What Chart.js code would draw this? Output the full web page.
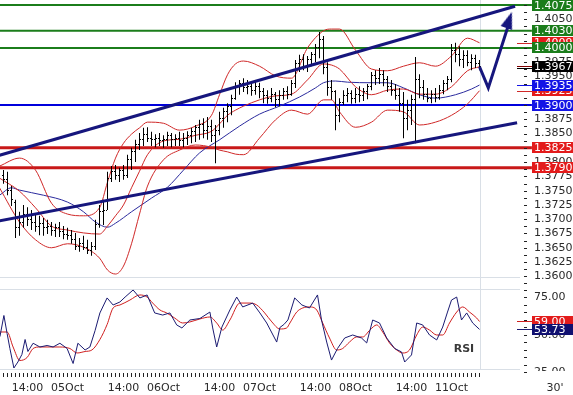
<!DOCTYPE html>
<html>
<head>
<meta charset="utf-8">
<title>30' chart</title>
<script src="https://cdn.jsdelivr.net/npm/chart.js@4.4.1/dist/chart.umd.min.js"></script>
<style>
html,body{margin:0;padding:0;background:#fff;overflow:hidden;}
#c{display:block;}
</style>
</head>
<body>
<canvas id="c" width="573" height="395"></canvas>
<script>
// ================= DATA =================
// time axis: hours counted from 05Oct 00:00 (weekend removed, 11Oct 00:00 = 96)
const firstBarHour = -16;   // one OHLC bar per hour

const barHigh = [
 1.3786,1.3783,1.3758,1.3734,1.3713,1.3725,1.3721,1.3716,1.3711,1.3706,
 1.3702,1.3699,1.3695,1.3692,1.3695,1.3688,1.3685,1.3681,1.3676,1.3667,
 1.3671,1.3664,1.3660,1.3699,1.3725,1.3734,1.3783,1.3793,1.3795,1.3790,
 1.3795,1.3813,1.3825,1.3839,1.3851,1.3860,1.3861,1.3853,1.3849,1.3851,
 1.3847,1.3853,1.3851,1.3849,1.3853,1.3851,1.3854,1.3860,1.3865,1.3874,
 1.3877,1.3879,1.3874,1.3865,1.3888,1.3895,1.3903,1.3918,1.3940,1.3944,
 1.3947,1.3944,1.3940,1.3944,1.3939,1.3930,1.3926,1.3930,1.3923,1.3926,
 1.3930,1.3933,1.3944,1.3979,1.3988,1.3989,1.3986,1.3993,1.4007,1.4028,
 1.4021,1.3975,1.3944,1.3926,1.3912,1.3926,1.3930,1.3926,1.3930,1.3933,
 1.3930,1.3937,1.3958,1.3961,1.3965,1.3961,1.3951,1.3944,1.3937,1.3930,
 1.3923,1.3909,1.3918,1.3984,1.3954,1.3944,1.3930,1.3926,1.3930,1.3935,
 1.3944,1.3951,1.4007,1.4009,1.4003,1.3996,1.3996,1.3989,1.3988,1.3979];
const barLow = [
 1.3762,1.3742,1.3723,1.3667,1.3671,1.3685,1.3688,1.3681,1.3678,1.3672,
 1.3671,1.3674,1.3671,1.3669,1.3669,1.3665,1.3664,1.3657,1.3646,1.3643,
 1.3646,1.3639,1.3636,1.3646,1.3685,1.3690,1.3716,1.3765,1.3769,1.3765,
 1.3769,1.3772,1.3786,1.3800,1.3821,1.3828,1.3835,1.3828,1.3826,1.3828,
 1.3825,1.3828,1.3826,1.3828,1.3828,1.3826,1.3830,1.3833,1.3835,1.3839,
 1.3842,1.3839,1.3835,1.3798,1.3847,1.3860,1.3870,1.3882,1.3909,1.3918,
 1.3923,1.3919,1.3916,1.3918,1.3912,1.3903,1.3902,1.3905,1.3896,1.3898,
 1.3909,1.3910,1.3916,1.3930,1.3958,1.3961,1.3958,1.3968,1.3975,1.3982,
 1.3954,1.3916,1.3909,1.3856,1.3870,1.3900,1.3905,1.3902,1.3903,1.3905,
 1.3907,1.3910,1.3926,1.3935,1.3937,1.3933,1.3923,1.3916,1.3909,1.3888,
 1.3842,1.3856,1.3865,1.3833,1.3912,1.3909,1.3905,1.3903,1.3905,1.3909,
 1.3919,1.3926,1.3940,1.3975,1.3968,1.3965,1.3968,1.3961,1.3965,1.3961];
const barOpen = [
 1.3776,1.3769,1.3751,1.3730,1.3685,1.3695,1.3709,1.3699,1.3695,1.3688,
 1.3692,1.3685,1.3688,1.3681,1.3685,1.3678,1.3674,1.3671,1.3664,1.3653,
 1.3657,1.3650,1.3646,1.3653,1.3690,1.3713,1.3716,1.3772,1.3783,1.3776,
 1.3786,1.3777,1.3804,1.3818,1.3830,1.3839,1.3849,1.3842,1.3839,1.3842,
 1.3837,1.3840,1.3846,1.3839,1.3842,1.3837,1.3842,1.3846,1.3853,1.3860,
 1.3865,1.3856,1.3863,1.3847,1.3856,1.3877,1.3888,1.3898,1.3912,1.3933,
 1.3937,1.3930,1.3933,1.3926,1.3932,1.3923,1.3916,1.3912,1.3918,1.3909,
 1.3916,1.3923,1.3919,1.3937,1.3972,1.3979,1.3968,1.3979,1.3988,1.4000,
 1.4014,1.3965,1.3930,1.3923,1.3882,1.3905,1.3916,1.3921,1.3912,1.3919,
 1.3916,1.3923,1.3933,1.3951,1.3947,1.3954,1.3944,1.3933,1.3926,1.3916,
 1.3902,1.3877,1.3891,1.3909,1.3944,1.3930,1.3918,1.3912,1.3919,1.3914,
 1.3926,1.3937,1.3944,1.3996,1.3988,1.3979,1.3986,1.3975,1.3982,1.3972];
const barClose = [
 1.3769,1.3751,1.3734,1.3685,1.3695,1.3709,1.3699,1.3695,1.3688,1.3692,
 1.3685,1.3688,1.3681,1.3685,1.3678,1.3674,1.3671,1.3664,1.3653,1.3657,
 1.3650,1.3646,1.3653,1.3690,1.3713,1.3716,1.3772,1.3783,1.3776,1.3786,
 1.3777,1.3804,1.3818,1.3830,1.3839,1.3849,1.3842,1.3839,1.3842,1.3837,
 1.3840,1.3846,1.3839,1.3842,1.3837,1.3842,1.3846,1.3853,1.3860,1.3865,
 1.3856,1.3863,1.3847,1.3856,1.3877,1.3888,1.3898,1.3912,1.3933,1.3937,
 1.3930,1.3933,1.3926,1.3932,1.3923,1.3916,1.3912,1.3918,1.3909,1.3916,
 1.3923,1.3919,1.3937,1.3972,1.3979,1.3968,1.3979,1.3988,1.4000,1.4014,
 1.3965,1.3930,1.3923,1.3882,1.3905,1.3916,1.3921,1.3912,1.3919,1.3916,
 1.3923,1.3933,1.3951,1.3947,1.3954,1.3944,1.3933,1.3926,1.3916,1.3902,
 1.3877,1.3891,1.3909,1.3944,1.3930,1.3918,1.3912,1.3919,1.3914,1.3926,
 1.3937,1.3944,1.3996,1.3988,1.3979,1.3986,1.3975,1.3982,1.3972,1.3967];

// Bollinger bands
const bandHours = [-17,-12,-8,-4,0,4,8,10,12,14,16,18,20,24,28,32,36,38,40,42,44,48,52,56,60,64,66,68,72,76,80,84,88,92,96,100,103];
const bbUpper  = [1.3793,1.3807,1.3786,1.3728,1.3709,1.3706,1.3720,1.3765,1.3807,1.3833,1.3849,1.3860,1.3870,1.3868,1.3856,1.3863,1.3882,1.3918,1.3953,1.3972,1.3977,1.3968,1.3951,1.3947,1.4000,1.4030,1.4033,1.4033,1.3996,1.3963,1.3960,1.3968,1.3974,1.3968,1.3986,1.4017,1.4009];
const bbMiddle = [1.3772,1.3749,1.3720,1.3688,1.3681,1.3676,1.3674,1.3688,1.3706,1.3725,1.3755,1.3784,1.3813,1.3837,1.3840,1.3847,1.3854,1.3867,1.3882,1.3891,1.3898,1.3909,1.3916,1.3919,1.3944,1.3972,1.3970,1.3963,1.3932,1.3918,1.3926,1.3928,1.3919,1.3919,1.3932,1.3960,1.3967];
const bbLower  = [1.3755,1.3695,1.3664,1.3650,1.3657,1.3651,1.3632,1.3611,1.3604,1.3618,1.3657,1.3709,1.3758,1.3804,1.3821,1.3830,1.3826,1.3821,1.3818,1.3814,1.3813,1.3842,1.3874,1.3891,1.3884,1.3909,1.3909,1.3888,1.3861,1.3870,1.3891,1.3888,1.3865,1.3870,1.3882,1.3902,1.3925];

// moving average (blue)
const maHours  = [-17,-14,-12,-6,0,4,7,10,12,16,21,25,29,33,38,43,48,53,58,62,64,67,70,76,80,84,88,92,97,101,103];
const maValues = [1.3742,1.3755,1.3751,1.3742,1.3730,1.3713,1.3695,1.3686,1.3693,1.3713,1.3737,1.3756,1.3786,1.3816,1.3839,1.3863,1.3884,1.3898,1.3914,1.3930,1.3939,1.3942,1.3940,1.3939,1.3939,1.3930,1.3918,1.3912,1.3918,1.3928,1.3935];

// RSI and its signal
const rsiHours = [-16.9,-15.9,-15.1,-14.4,-13.4,-12.4,-11.4,-10.6,-9.9,-8.6,-6.9,-5.1,-3.6,-1.9,-0.1,1.4,2.6,4.4,5.6,6.9,8.1,9.9,11.4,13.1,14.4,16.4,18.1,19.9,21.8,23.8,25.6,27.3,28.6,30.6,33.1,35.6,36.3,37.3,38.6,40.6,42.3,43.8,46.3,48.1,49.8,52.3,53.1,54.1,55.1,56.8,58.6,60.5,62.5,63.5,64.8,66.0,67.5,69.3,71.3,73.5,74.8,76.3,78.0,79.8,81.8,83.5,84.3,86.0,87.3,88.8,90.5,92.3,93.8,95.0,96.0,97.3,98.5,99.8,101.3,103.0];
const rsiValues = [48.9,63,51,41,28,32,37,47,39,44.5,42,43,42,44.5,41,31,44.5,40,42,53,64.7,74.7,70,72,75.3,80,74.7,76.7,64.7,63.3,64.7,56.7,54.7,60,61,65.3,54.7,42,55.3,66.7,75.3,68.7,71.3,64.7,58,45.3,55,57,60,74.7,70,68,76.7,60,45.3,33.3,41,48,50,48,44.7,60,58,48,41,38.7,32,36.7,58,56.7,50,46.7,55.3,65.3,73.3,75.3,60,64.7,58,53.73];
const rsiSignalHours = [-16.9,-15.1,-13.6,-11.9,-10.1,-8.6,-6.9,-4.4,-1.9,0.6,2.4,4.4,6.1,8.1,9.9,11.4,13.1,15.6,18.1,19.9,21.3,23.1,24.8,26.8,28.8,30.6,33.1,35.6,37.3,38.8,40.6,43.1,45.6,47.3,49.3,51.1,53.1,54.8,55.6,57.3,58.8,60.5,62.3,63.8,65.5,67.3,68.8,70.5,72.3,73.8,75.6,77.3,78.8,80.5,82.3,83.8,85.5,87.3,88.8,90.5,92.3,93.8,95.5,97.3,98.8,100.5,102.3,103.0];
const rsiSignalValues = [52,52,42,33,35,41,42,42,42,41,38,39,40,47,57,68,70,73.3,76.7,75.3,71.3,66.7,64.7,61.3,58,58.7,60.7,62,58,53.3,60,71.3,71.3,70,64.7,58.7,54,54.7,58,65.3,68,68.7,66.7,58,48,40,41,45.3,48.7,48.7,53.3,56.7,52,44.7,40,38,40,50,55.3,53.3,50,50,58,65.3,68.7,65.3,61.3,59];

// horizontal levels
const resistanceLevels = [1.4075, 1.4030, 1.4000];
const pivotLevels = [1.3900];
const supportLevels = [1.3825, 1.3790];

// trend channel (two end points each)
const channelUpperHours = [-17, 111.9];
const channelUpperPrices = [1.3812, 1.4073];
const channelLowerHours = [-17, 112.4];
const channelLowerPrices = [1.3697, 1.3869];

// projection arrow
const arrowHours = [103, 105.2, 110.1];
const arrowPrices = [1.3967, 1.3930, 1.4037];
const arrowHeadHours = [110.4];
const arrowHeadPrices = [1.4049];

// tick labels
const timeTickHours = [-10, 0, 14, 24, 38, 48, 62, 72, 86, 96];
const timeTickLabels = ['14:00','05Oct','14:00','06Oct','14:00','07Oct','14:00','08Oct','14:00','11Oct'];
const priceTickLabels = ['1.3600','1.3625','1.3650','1.3675','1.3700','1.3725','1.3750','1.3775','1.3800','1.3825','1.3850','1.3875','1.3900','1.3925','1.3950','1.3975','1.4000','1.4025','1.4050','1.4075'];
const rsiTickLabels = ['75.00','50.00','25.00'];

// ================= LAYOUT / STYLE =================
const X_MIN = -16.875, X_MAX = 126.375;
const P_MAX = 1.40839, P_MIN = 1.339214;
const R_MIN = 10, R_MAX = 273.333;
const PRICE_PANEL_BOTTOM = 1.3598, RSI_PANEL_TOP = 80.67, RSI_PANEL_BOTTOM = 27.33;
const NOW_HOUR = 103.25, PANEL_RIGHT_HOUR = 113.1, LEVEL_START = -17, LEVEL_END = 116.1;

const GREEN = '#1b7d1b', BLUE_LINE = '#0000dc', BLUE_BOX = '#1414e6', RED_LINE = '#c81818', RED_BOX = '#e31b1b';
const NAVY = '#16167d', BAND_RED = '#d02828', MA_BLUE = '#2b2b9e', RSI_NAVY = '#1b1b72', RSI_RED = '#d01f1f';
const FONT = '11px "DejaVu Sans", Verdana, sans-serif';

const pts = (hs, vs) => hs.map((h, i) => ({x: h, y: vs[i]}));
const barHours = barHigh.map((_, i) => firstBarHour + i);

function tickImage(side) {
  const cv = document.createElement('canvas'); cv.width = 3; cv.height = 1;
  const g = cv.getContext('2d'); g.fillStyle = '#000'; g.fillRect(side === 'L' ? 0 : 2, 0, 1, 1);
  return cv;
}
function arrowImage() {
  const cv = document.createElement('canvas'); cv.width = 12; cv.height = 17;
  const g = cv.getContext('2d'); g.fillStyle = NAVY;
  g.beginPath(); g.moveTo(6, 0); g.lineTo(12, 17); g.lineTo(0, 17); g.closePath(); g.fill();
  return cv;
}

const datasets = [];
const levelDs = (v, color, w) => ({ data: [{x: LEVEL_START, y: v}, {x: LEVEL_END, y: v}], borderColor: color, borderWidth: w, pointRadius: 0, yAxisID: 'y', order: 9 });
resistanceLevels.forEach(v => datasets.push(levelDs(v, GREEN, 2)));
pivotLevels.forEach(v => datasets.push(levelDs(v, BLUE_LINE, 2)));
supportLevels.forEach(v => datasets.push(levelDs(v, RED_LINE, 3)));

[bbUpper, bbMiddle, bbLower].forEach(arr => datasets.push({ data: pts(bandHours, arr), borderColor: BAND_RED, borderWidth: 1, pointRadius: 0, cubicInterpolationMode: 'monotone', yAxisID: 'y', order: 8 }));
datasets.push({ data: pts(maHours, maValues), borderColor: MA_BLUE, borderWidth: 1, pointRadius: 0, cubicInterpolationMode: 'monotone', yAxisID: 'y', order: 8 });

datasets.push({ type: 'bar', data: barHours.map((h, i) => ({x: h, y: [barLow[i], barHigh[i]]})), backgroundColor: '#000', borderWidth: 0, barThickness: 1, inflateAmount: 0, grouped: false, yAxisID: 'y', order: 5 });
datasets.push({ data: pts(barHours, barOpen), showLine: false, pointStyle: tickImage('L'), pointRadius: 1, pointBorderWidth: 0, yAxisID: 'y', order: 4, crisp: true });
datasets.push({ data: pts(barHours, barClose), showLine: false, pointStyle: tickImage('R'), pointRadius: 1, pointBorderWidth: 0, yAxisID: 'y', order: 4, crisp: true });

datasets.push({ data: pts(channelUpperHours, channelUpperPrices), borderColor: NAVY, borderWidth: 3, pointRadius: 0, yAxisID: 'y', order: 2 });
datasets.push({ data: pts(channelLowerHours, channelLowerPrices), borderColor: NAVY, borderWidth: 3, pointRadius: 0, yAxisID: 'y', order: 2 });
datasets.push({ data: pts(arrowHours, arrowPrices), borderColor: NAVY, borderWidth: 3, pointRadius: 0, borderJoinStyle: 'miter', yAxisID: 'y', order: 1 });
datasets.push({ data: pts(arrowHeadHours, arrowHeadPrices), showLine: false, pointStyle: arrowImage(), rotation: 19, pointRadius: 5, pointBorderWidth: 0, yAxisID: 'y', order: 0 });

datasets.push({ data: pts(rsiSignalHours, rsiSignalValues), borderColor: RSI_RED, borderWidth: 1, pointRadius: 0, cubicInterpolationMode: 'monotone', yAxisID: 'yRsi', order: 7 });
datasets.push({ data: pts(rsiHours, rsiValues), borderColor: RSI_NAVY, borderWidth: 1, pointRadius: 0, yAxisID: 'yRsi', order: 6 });

const panelPlugin = {
  id: 'panelPlugin',
  beforeDraw(chart) {
    const c = chart.ctx; c.save(); c.fillStyle = '#fff'; c.fillRect(0, 0, chart.width, chart.height); c.restore();
  },
  beforeDatasetsDraw(chart) {
    const c = chart.ctx, xs = chart.scales.x, ys = chart.scales.y, rs = chart.scales.yRsi;
    c.save();
    c.fillStyle = '#d9dfe6';
    const xr = Math.round(xs.getPixelForValue(PANEL_RIGHT_HOUR));
    const hl = (py) => c.fillRect(0, Math.round(py), xr, 1);
    hl(ys.getPixelForValue(PRICE_PANEL_BOTTOM));
    hl(rs.getPixelForValue(RSI_PANEL_TOP));
    hl(rs.getPixelForValue(RSI_PANEL_BOTTOM));
    const nx = Math.floor(xs.getPixelForValue(NOW_HOUR));
    c.fillRect(nx, 0, 1, Math.round(rs.getPixelForValue(RSI_PANEL_BOTTOM)));
    c.restore();
  },
  beforeDatasetDraw(chart, args) {
    chart.ctx.imageSmoothingEnabled = !chart.data.datasets[args.index].crisp;
  },
  afterDraw(chart) {
    const c = chart.ctx, xs = chart.scales.x, ys = chart.scales.y, rs = chart.scales.yRsi;
    const py = v => ys.getPixelForValue(v), ry = v => rs.getPixelForValue(v), px = h => xs.getPixelForValue(h);
    c.save();
    c.imageSmoothingEnabled = true;
    // axis dashes
    c.fillStyle = '#222';
    for (let i = 0; i <= 39; i++) c.fillRect(524, Math.round(py(1.35875 + i * 0.00125)), 3, 1);
    for (let v = 25; v <= 80; v += 5) c.fillRect(524, Math.round(ry(v)), 3, 1);
    for (let i = 0; i < barHours.length; i++) c.fillRect(Math.floor(px(barHours[i])), 373, 1, 4);
    // tick labels
    c.font = FONT; c.textBaseline = 'middle'; c.textAlign = 'left'; c.fillStyle = '#2a2a2a';
    priceTickLabels.forEach(t => c.fillText(t, 534, py(parseFloat(t))));
    c.save(); c.beginPath(); c.rect(528, 282, 45, 89); c.clip();
    rsiTickLabels.forEach(t => c.fillText(t, 534, ry(parseFloat(t))));
    c.restore();
    c.textAlign = 'center';
    timeTickHours.forEach((h, i) => c.fillText(timeTickLabels[i], px(h), 388));
    c.fillText("30'", 555, 388);
    c.font = 'bold 11px "DejaVu Sans", Verdana, sans-serif'; c.fillStyle = '#3a3a3a';
    c.fillText('RSI', px(99.1), ry(40.7));
    // markers
    const marker = (yy, color) => { c.fillStyle = color; c.fillRect(517, Math.round(yy), 15, 1); };
    const lastUpper = bbUpper[bbUpper.length - 1], lastLower = bbLower[bbLower.length - 1];
    const lastMa = maValues[maValues.length - 1], lastClose = barClose[barClose.length - 1];
    const lastRsi = rsiValues[rsiValues.length - 1], lastSig = rsiSignalValues[rsiSignalValues.length - 1];
    marker(py(lastUpper), BAND_RED);
    marker(py(lastClose) - 1, '#800000');
    marker(py(lastClose) + 1, '#000');
    marker(py(lastMa), BLUE_BOX);
    marker(py(lastLower), BAND_RED);
    marker(ry(lastSig), RSI_RED);
    marker(ry(lastRsi), RSI_NAVY);
    // value boxes
    c.font = FONT; c.textAlign = 'left';
    const box = (yy, text, bg) => { const top = Math.round(yy - 5.5); c.fillStyle = bg; c.fillRect(532, top, 41, 11); c.fillStyle = '#fff'; c.fillText(text, 534, top + 6); };
    box(py(lastUpper), lastUpper.toFixed(4), RED_BOX);
    resistanceLevels.forEach(v => box(py(v), v.toFixed(4), GREEN));
    box(py(lastClose), lastClose.toFixed(4), '#000');
    box(py(lastLower), lastLower.toFixed(4), RED_BOX);
    box(py(lastMa), lastMa.toFixed(4), BLUE_BOX);
    pivotLevels.forEach(v => box(py(v), v.toFixed(4), BLUE_BOX));
    supportLevels.forEach(v => box(py(v), v.toFixed(4), RED_BOX));
    box(ry(lastSig), lastSig.toFixed(2), RED_BOX);
    box(ry(lastRsi), lastRsi.toFixed(2), '#101070');
    c.restore();
  }
};

const hiddenScale = (extra) => Object.assign({ type: 'linear', display: false, offset: false, bounds: 'data', grace: 0,
  ticks: { display: false }, grid: { display: false, drawTicks: false }, border: { display: false } }, extra);

const chart = new Chart(document.getElementById('c'), {
  type: 'line',
  data: { datasets },
  options: {
    responsive: false, animation: false, devicePixelRatio: 1, events: [],
    layout: { padding: 0, autoPadding: false },
    plugins: { legend: { display: false }, tooltip: { enabled: false }, title: { display: false } },
    elements: { point: { radius: 0 }, line: { tension: 0 } },
    scales: {
      x: hiddenScale({ min: X_MIN, max: X_MAX }),
      y: hiddenScale({ min: P_MIN, max: P_MAX }),
      yRsi: hiddenScale({ axis: 'y', position: 'right', min: R_MIN, max: R_MAX })
    }
  },
  plugins: [panelPlugin]
});
// make sure the plot area is the whole canvas
const ca = chart.chartArea;
if (ca.left !== 0 || ca.top !== 0 || ca.right !== 573 || ca.bottom !== 395) {
  chart.options.layout.padding = { left: -ca.left, top: -ca.top, right: ca.right - 573, bottom: ca.bottom - 395 };
  chart.update();
}
</script>
</body>
</html>
